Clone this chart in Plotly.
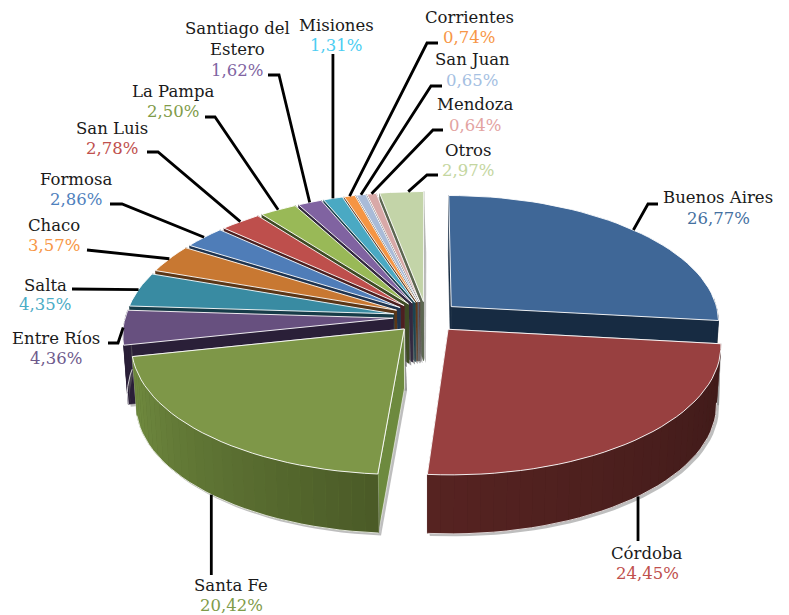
import math
import plotly.graph_objects as go

# ---- data ----
provinces = ["Buenos Aires", "Córdoba", "Santa Fe", "Entre Ríos", "Salta", "Chaco", "Formosa",
             "San Luis", "La Pampa", "Santiago del Estero", "Misiones", "Corrientes",
             "San Juan", "Mendoza", "Otros"]
shares = [26.77, 24.45, 20.42, 4.36, 4.35, 3.57, 2.86, 2.78, 2.50, 1.62, 1.31, 0.74, 0.65, 0.64, 2.97]
value_labels = ["26,77%", "24,45%", "20,42%", "4,36%", "4,35%", "3,57%", "2,86%", "2,78%", "2,50%",
                "1,62%", "1,31%", "0,74%", "0,65%", "0,64%", "2,97%"]

# ---- styles ----
top_colors = ["#3F6797", "#984040", "#7E9748", "#67507F", "#398BA2", "#C87832", "#4F7DB8", "#BE4F4C",
              "#99B957", "#8063A1", "#4AA9C3", "#F59544", "#A9BBD8", "#D8A9A8", "#C3D4A8"]
face_colors = ["#172B42", "#431B1A", "#6D8A3E", "#2A1F38", "#163C48", "#5B3616", "#1E3450", "#4D2020",
               "#3E4B24", "#332840", "#1D4450", "#63391A", "#56606F", "#5A4444", "#5C6650"]
wall_light = ["#172B42", "#562321", "#718C40", "#2A1F38", "#163C48", "#5B3616", "#1E3450", "#4D2020",
              "#3E4B24", "#332840", "#1D4450", "#63391A", "#56606F", "#5A4444", "#5C6650"]
wall_dark = ["#172B42", "#3E1A19", "#4B5B27", "#2A1F38", "#163C48", "#5B3616", "#1E3450", "#4D2020",
             "#3E4B24", "#332840", "#1D4450", "#63391A", "#56606F", "#5A4444", "#5C6650"]
text_colors = ["#44709F", "#C0504D", "#7F9B49", "#6E5A8C", "#4BACC6", "#F79646", "#4F81BD", "#C0504D",
               "#7F9B49", "#8064A2", "#4BCDF2", "#F79646", "#A5C0E2", "#E3A3A1", "#C4D6A0"]

# ---- projection of the tilted pie ----
CX, CY, RX, RY, PERSP, DEPTH, BOTTOM_SHRINK, PULL = 426.5, 317, 267.8, 126, 0.114, 59, 0.985, 0.125
FONT = "DejaVu Serif"
FS = 16.5
SHADOW = "rgba(110,110,110,0.45)"

def project(u, v):
    s = 1 / (1 - PERSP * v)
    return CX + RX * u * s, CY + RY * v * s

def drop(p):
    return CX + (p[0] - CX) * BOTTOM_SHRINK, p[1] + DEPTH

def mix(a, b, t):
    ca = [int(a[i:i + 2], 16) for i in (1, 3, 5)]
    cb = [int(b[i:i + 2], 16) for i in (1, 3, 5)]
    return "#%02x%02x%02x" % tuple(round(x + (y - x) * t) for x, y in zip(ca, cb))

total = sum(shares)
starts, ends = [], []
acc = 0
for s in shares:
    starts.append(acc / total * 2 * math.pi)
    acc += s
    ends.append(acc / total * 2 * math.pi)

def rim_point(i, th):
    mid = (starts[i] + ends[i]) / 2
    return project(math.sin(th) + PULL * math.sin(mid), -math.cos(th) - PULL * math.cos(mid))

def apex(i):
    mid = (starts[i] + ends[i]) / 2
    return project(PULL * math.sin(mid), -PULL * math.cos(mid))

fig = go.Figure()

def poly(pts, fill, line=None, width=0.8):
    xs = [p[0] for p in pts] + [pts[0][0]]
    ys = [p[1] for p in pts] + [pts[0][1]]
    fig.add_trace(go.Scatter(x=xs, y=ys, mode="lines", fill="toself", fillcolor=fill,
                             line=dict(color=line or fill, width=width), hoverinfo="skip",
                             showlegend=False))

# painter's order: far slices first
order = sorted(range(len(shares)), key=lambda i: -math.cos((starts[i] + ends[i]) / 2))
for i in order:
    n = max(2, int((ends[i] - starts[i]) / math.radians(2.5)))
    ths = [starts[i] + (ends[i] - starts[i]) * k / n for k in range(n + 1)]
    rim = [rim_point(i, t) for t in ths]
    low = [drop(p) for p in rim]
    a = apex(i)
    a_low = drop(a)
    front = [k for k in range(n) if -math.cos((ths[k] + ths[k + 1]) / 2) > -0.05]

    # soft shadow of the radial faces
    for r, l in ((rim[0], low[0]), (rim[-1], low[-1])):
        poly([a, r, (l[0] + 2.5, l[1] + 2.5), (a_low[0] + 2.5, a_low[1] + 2.5)], SHADOW, "rgba(0,0,0,0)", 0)

    # radial cut faces, hidden one first
    faces = [[a, rim[0], low[0], a_low], [a, rim[-1], low[-1], a_low]]
    faces.sort(key=lambda f: f[1][1])
    for f in faces:
        poly(f, face_colors[i], "#FFFFFF" if i in (1, 2) else face_colors[i], 0.6)

    # outer wall, only where it faces the viewer
    if front:
        ks = front + [front[-1] + 1]
        band_top = [rim[k] for k in ks]
        band_low = [low[k] for k in ks]
        poly(band_top + [(p[0] + 2.5, p[1] + 2.5) for p in band_low][::-1], SHADOW, "rgba(0,0,0,0)", 0)
        poly(band_top + band_low[::-1], mix(wall_light[i], wall_dark[i], 0.5), None, 0.3)
        for k in front:
            c = mix(wall_dark[i], wall_light[i], k / max(1, n - 1))
            poly([rim[k], rim[k + 1], low[k + 1], low[k]], c, "rgba(0,0,0,0)", 0)
        fig.add_trace(go.Scatter(x=[p[0] for p in band_low], y=[p[1] for p in band_low], mode="lines",
                                 line=dict(color="#FFFFFF", width=0.8), hoverinfo="skip", showlegend=False))

    # top face
    poly([a] + rim, top_colors[i], "#FFFFFF", 0.9)

# ---- leader lines: start on the slice rim, then run to the label ----
leader_frac = [0.5, 0.495, 0.496, 0.5, 0.5, 0.5, 0.5, 0.5, 0.5, 0.5, 0.5, 0.5, 0.5, 0.5, 0.65]
leader_drop = [False, True, True] + [False] * 12
leader_route = [
    [(648, 204), (658, 204)],
    [(None, 541)],
    [(None, 575)],
    [(118, 343), (108, 343)],
    [(72, 289)],
    [(98, 251), (87, 250)],
    [(122, 204), (110, 204)],
    [(158, 152), (147, 152)],
    [(215, 117), (205, 117)],
    [(279, 75), (268, 75)],
    [(None, 54)],
    [(427, 43), (438, 43)],
    [(431, 86), (442, 86)],
    [(433, 130), (443, 130)],
    [(427, 175), (438, 175)],
]
for i, route in enumerate(leader_route):
    th = starts[i] + (ends[i] - starts[i]) * leader_frac[i]
    p = rim_point(i, th)
    if leader_drop[i]:
        p = drop(p)
    xs, ys = [p[0]], [p[1]]
    for rx, ry in route:
        xs.append(p[0] if rx is None else rx)
        ys.append(ry)
    fig.add_trace(go.Scatter(x=xs, y=ys, mode="lines", line=dict(color="#000000", width=2.8),
                             hoverinfo="skip", showlegend=False))

# ---- labels ----
label_x = [718, 647, 231, 56, 45, 54, 76, 112, 173, 237, 336, 469, 472, 475, 468]
name_y = [197, 553, 585, 338, 285, 225, 179, 128, 91, 28, 25, 17, 59, 104, 150]
value_y = [218, 573, 605, 358, 304, 245, 199, 148, 111, 70, 45, 37, 80, 125, 170]

def label(x, y, text, color):
    fig.add_annotation(x=x, y=y, text=text, showarrow=False, xanchor="center", yanchor="middle",
                       font=dict(family=FONT, size=FS, color=color))

for i, name in enumerate(provinces):
    if name == "Santiago del Estero":
        label(label_x[i], name_y[i], "Santiago del", "#1A1A1A")
        label(label_x[i], name_y[i] + 21, "Estero", "#1A1A1A")
    else:
        label(label_x[i], name_y[i], name, "#1A1A1A")
    label(label_x[i], value_y[i], value_labels[i], text_colors[i])

fig.update_layout(width=789, height=615, margin=dict(l=0, r=0, t=0, b=0),
                  paper_bgcolor="#FFFFFF", plot_bgcolor="#FFFFFF", showlegend=False,
                  xaxis=dict(range=[0, 789], visible=False, fixedrange=True),
                  yaxis=dict(range=[615, 0], visible=False, fixedrange=True))
fig.write_html("out.html", config={"displayModeBar": False},
               post_script="document.body.style.margin='0';document.documentElement.style.overflow='hidden';")
